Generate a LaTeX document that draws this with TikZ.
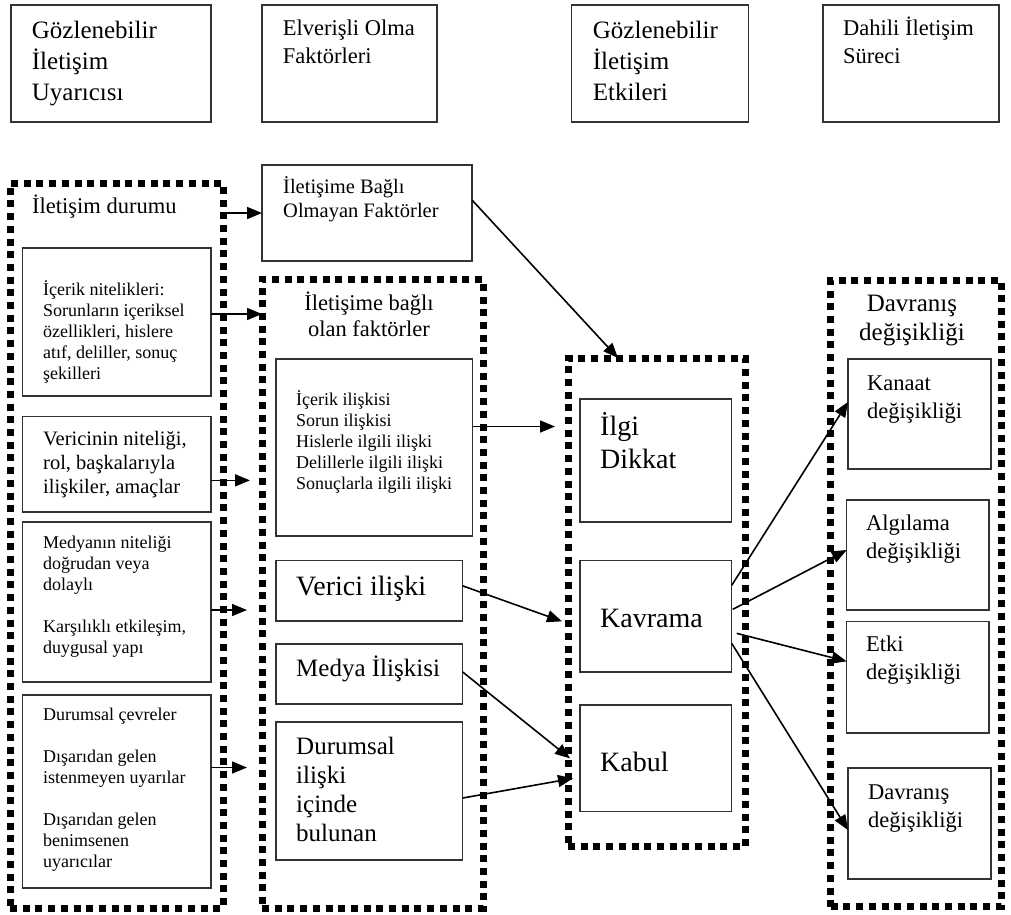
\documentclass[tikz,border=0pt]{standalone}
\usepackage{fontspec}
\setmainfont{Liberation Serif}
\usetikzlibrary{arrows.meta,positioning}

\begin{document}
\begin{tikzpicture}[x=1pt, y=-1pt,
    box/.style={draw=black!80, line width=1.2pt, anchor=north west, inner sep=0pt, outer sep=0pt},
    ctr/.style={draw=black, line width=7pt, dash pattern=on 7pt off 5.7pt, anchor=north west, inner sep=0pt, outer sep=0pt},
    txt/.style={inner sep=0pt, align=left},
    big/.style={font=\fontsize{25}{31}\selectfont},
    head/.style={font=\fontsize{22.5}{28}\selectfont},
    ttl/.style={font=\fontsize{22.5}{26}\selectfont},
    mid/.style={font=\fontsize{20.5}{24}\selectfont},
    small/.style={font=\fontsize{18}{21}\selectfont},
    lrg/.style={font=\fontsize{25}{29}\selectfont},
    huge/.style={font=\fontsize{28}{33}\selectfont},
    arrow/.style={-{Triangle[length=15pt,width=12pt]}, line width=1.6pt}]
    \useasboundingbox (0,0) rectangle (1011,914);

    % column heads
    \node[box, minimum width=200pt, minimum height=117pt] (uyarici) at (11,5) {};
    \node[txt, big, below right=11.3pt and 20.7pt of uyarici.north west] (uyaricitxt) {\strut Gözlenebilir\\İletişim\\Uyarıcısı};
    \node[box, minimum width=175pt, minimum height=117pt] (elverisli) at (262,5) {};
    \node[txt, head, below right=10.9pt and 20.7pt of elverisli.north west] (elverislitxt) {\strut Elverişli Olma\\Faktörleri};
    \node[box, minimum width=177pt, minimum height=117pt] (etkiler) at (571.7,5) {};
    \node[txt, big, below right=11.3pt and 21pt of etkiler.north west] (etkilertxt) {\strut Gözlenebilir\\İletişim\\Etkileri};
    \node[box, minimum width=176pt, minimum height=117pt] (surec) at (823,5) {};
    \node[txt, head, below right=10.9pt and 20pt of surec.north west] (surectxt) {\strut Dahili İletişim\\Süreci};

    % communication situation
    \node[ctr, minimum width=213pt, minimum height=725pt] (durum) at (10,183) {};
    \node[txt, ttl, below right=12.1pt and 22pt of durum.north west] (durumtxt) {\strut İletişim durumu};
    \node[box, minimum width=188.3pt, minimum height=148pt] (icerik) at (22.7,248) {};
    \node[txt, small, below right=32.3pt and 20.3pt of icerik.north west] (iceriktxt) {\strut İçerik nitelikleri:\\Sorunların içeriksel\\özellikleri, hislere\\atıf, deliller, sonuç\\şekilleri};
    \node[box, minimum width=188.3pt, minimum height=95.3pt] (verici) at (22.7,416.7) {};
    \node[txt, mid, below right=11.5pt and 20.3pt of verici.north west] (vericitxt) {\strut Vericinin niteliği,\\rol, başkalarıyla\\ilişkiler, amaçlar};
    \node[box, minimum width=188.3pt, minimum height=160pt] (medya) at (22.7,522) {};
    \node[txt, small, below right=11.6pt and 20.3pt of medya.north west] (medyatxt) {\strut Medyanın niteliği\\doğrudan veya\\dolaylı\\[21pt]Karşılıklı etkileşim,\\duygusal yapı};
    \node[box, minimum width=188.3pt, minimum height=193pt] (cevre) at (22.7,695) {};
    \node[txt, small, below right=11pt and 20.3pt of cevre.north west] (cevretxt) {\strut Durumsal çevreler\\[21pt]Dışarıdan gelen\\istenmeyen uyarılar\\[21pt]Dışarıdan gelen\\benimsenen\\uyarıcılar};

    % favourable factors
    \node[box, minimum width=210pt, minimum height=96pt] (bagsiz) at (262,165) {};
    \node[txt, mid, below right=10.9pt and 21pt of bagsiz.north west] (bagsiztxt) {\strut İletişime Bağlı\\Olmayan Faktörler};
    \node[ctr, minimum width=221pt, minimum height=629pt] (bagli) at (262,279) {};
    \node[txt, ttl, align=center, below=12.8pt of bagli.north, xshift=-3.5pt] (baglitxt) {\strut İletişime bağlı\\olan faktörler};
    \node[box, minimum width=196.7pt, minimum height=177pt] (iliski) at (276,359) {};
    \node[txt, small, below right=31.3pt and 20pt of iliski.north west] (iliskitxt) {\strut İçerik ilişkisi\\Sorun ilişkisi\\Hislerle ilgili ilişki\\Delillerle ilgili ilişki\\Sonuçlarla ilgili ilişki};
    \node[box, minimum width=186.7pt, minimum height=60.3pt] (vil) at (276,560.7) {};
    \node[txt, huge, below right=11.2pt and 20pt of vil.north west] (viltxt) {\strut Verici ilişki};
    \node[box, minimum width=186.7pt, minimum height=60pt] (mil) at (276,644) {};
    \node[txt, lrg, below right=11.7pt and 20pt of mil.north west] (miltxt) {\strut Medya İlişkisi};
    \node[box, minimum width=186.7pt, minimum height=138pt] (dil) at (276,722) {};
    \node[txt, lrg, below right=11.7pt and 20pt of dil.north west] (diltxt) {\strut Durumsal\\ilişki\\içinde\\bulunan};

    % observable effects
    \node[ctr, minimum width=177pt, minimum height=488.7pt] (etki) at (568,358) {};
    \node[box, minimum width=151.7pt, minimum height=123pt] (ilgi) at (580,399) {};
    \node[txt, huge, below right=12.9pt and 20pt of ilgi.north west] (ilgitxt) {\strut İlgi\\Dikkat};
    \node[box, minimum width=151.7pt, minimum height=111.3pt] (kavrama) at (580,560.7) {};
    \node[txt, huge, below right=43.9pt and 20pt of kavrama.north west] (kavramatxt) {\strut Kavrama};
    \node[box, minimum width=151.7pt, minimum height=106.7pt] (kabul) at (580,705) {};
    \node[txt, huge, below right=43.6pt and 20pt of kabul.north west] (kabultxt) {\strut Kabul};

    % behaviour change
    \node[ctr, minimum width=170.3pt, minimum height=626.7pt] (davranis) at (830.7,280) {};
    \node[txt, lrg, align=center, below=11.4pt of davranis.north, xshift=-3.9pt] (davranistxt) {\strut Davranış\\değişikliği};
    \node[box, minimum width=143pt, minimum height=110pt] (kanaat) at (848,359) {};
    \node[txt, head, below right=11.4pt and 19pt of kanaat.north west] (kanaattxt) {\strut Kanaat\\değişikliği};
    \node[box, minimum width=142.3pt, minimum height=110pt] (algi) at (846.7,500) {};
    \node[txt, head, below right=10.4pt and 19.3pt of algi.north west] (algitxt) {\strut Algılama\\değişikliği};
    \node[box, minimum width=142.3pt, minimum height=111.3pt] (etkid) at (846.7,621.7) {};
    \node[txt, head, below right=10.4pt and 19.3pt of etkid.north west] (etkidtxt) {\strut Etki\\değişikliği};
    \node[box, minimum width=143pt, minimum height=111pt] (davd) at (848,768) {};
    \node[txt, head, below right=11.4pt and 20pt of davd.north west] (davdtxt) {\strut Davranış\\değişikliği};

    % arrows
    \draw[arrow] (bagsiz.west -| durum.east) -- (bagsiz.west);
    \draw[arrow] ([yshift=8pt]icerik.east) -- ([yshift=8pt]icerik.east -| bagli.west);
    \draw[arrow] ([yshift=-16pt]verici.east) -- ([xshift=-12pt,yshift=-16pt]verici.east -| bagli.west);
    \draw[arrow] ([yshift=-8pt]medya.east) -- ([xshift=-15pt,yshift=-8pt]medya.east -| bagli.west);
    \draw[arrow] ([yshift=24pt]cevre.east) -- ([xshift=-15pt,yshift=24pt]cevre.east -| bagli.west);
    \draw[arrow] ([yshift=13pt]bagsiz.east) -- ([xshift=-38.5pt]etki.north);
    \draw[arrow] ([yshift=21pt]iliski.east) -- ([xshift=-13pt,yshift=21pt]iliski.east -| etki.west);
    \draw[arrow] ([yshift=5pt]vil.east) -- ([xshift=-18pt,yshift=-5pt]kavrama.west);
    \draw[arrow] ([yshift=2pt]mil.east) -- ([xshift=-10pt]kabul.west);
    \draw[arrow] ([yshift=-7pt]dil.east) -- ([xshift=-7pt,yshift=-20pt]kabul.west);
    \draw[arrow] ([yshift=31pt]kavrama.east) -- ([yshift=12pt]kanaat.west);
    \draw[arrow] ([xshift=1pt,yshift=7pt]kavrama.east) -- ([yshift=5pt]algi.west);
    \draw[arrow] ([xshift=5pt,yshift=-17pt]kavrama.east) -- ([yshift=16pt]etkid.west);
    \draw[arrow] ([yshift=-27pt]kavrama.east) -- ([yshift=-6.5pt]davd.west);
\end{tikzpicture}
\end{document}
